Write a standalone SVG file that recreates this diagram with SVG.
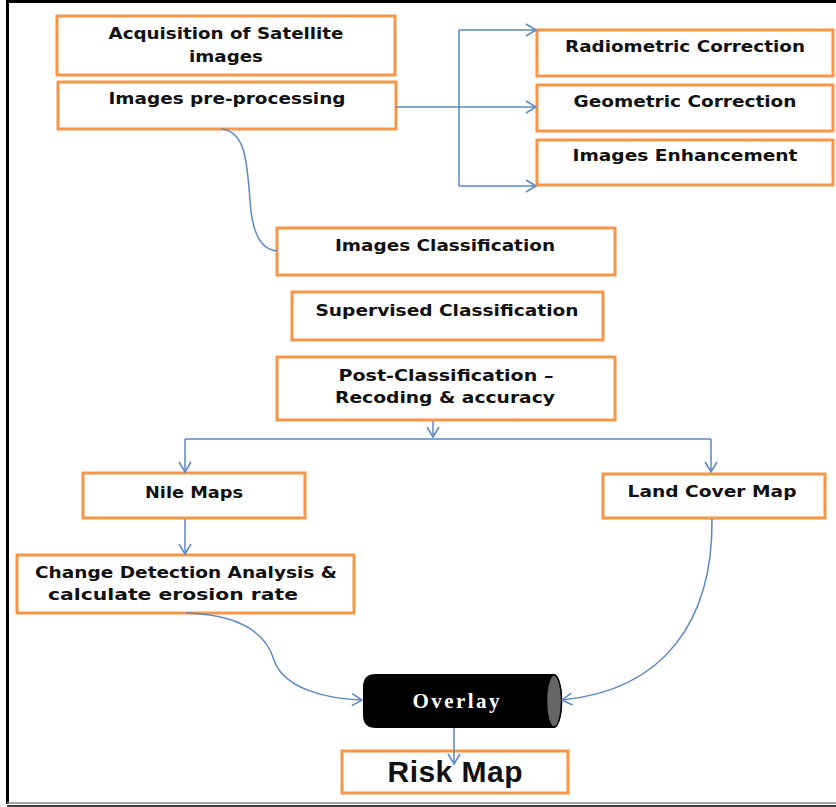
<svg xmlns="http://www.w3.org/2000/svg" width="836" height="807" viewBox="0 0 836 807">
<defs>
<style>
.box{fill:#fff;stroke:#F79646;stroke-width:3}
.t{font-family:"DejaVu Sans",Verdana,sans-serif;font-weight:bold;font-size:15.5px;fill:#111;text-anchor:middle}
.c{fill:none;stroke:#5B87C5;stroke-width:1.5}
</style>
<marker id="ah" markerWidth="14" markerHeight="14" refX="11" refY="7" orient="auto" markerUnits="userSpaceOnUse">
<path d="M1,1 L11,7 L1,13" fill="none" stroke="#5B87C5" stroke-width="1.5"/>
</marker>
</defs>
<rect width="836" height="807" fill="#fff"/>
<g id="frame">
<line x1="7" y1="1.5" x2="836" y2="1.5" stroke="#000" stroke-width="3"/>
<line x1="7.5" y1="0" x2="7.5" y2="804" stroke="#000" stroke-width="3"/>
<line x1="7" y1="803" x2="836" y2="803" stroke="#888" stroke-width="1.5"/>
<line x1="7" y1="806" x2="836" y2="806" stroke="#000" stroke-width="1.5"/>
</g>
<g id="n-acq">
<rect class="box" x="57" y="16" width="338" height="59"/>
<text class="t" x="226" y="39" textLength="235" lengthAdjust="spacingAndGlyphs">Acquisition of Satellite</text>
<text class="t" x="226" y="62" textLength="74" lengthAdjust="spacingAndGlyphs">images</text>
</g>
<g id="n-pre">
<rect class="box" x="58" y="82" width="338" height="47"/>
<text class="t" x="227" y="104" textLength="237" lengthAdjust="spacingAndGlyphs">Images pre-processing</text>
</g>
<g id="n-radio">
<rect class="box" x="537" y="30" width="296" height="46"/>
<text class="t" x="685" y="52" textLength="240" lengthAdjust="spacingAndGlyphs">Radiometric Correction</text>
</g>
<g id="n-geo">
<rect class="box" x="537" y="85" width="296" height="46"/>
<text class="t" x="685" y="107" textLength="223" lengthAdjust="spacingAndGlyphs">Geometric Correction</text>
</g>
<g id="n-enh">
<rect class="box" x="537" y="140" width="296" height="45"/>
<text class="t" x="685" y="161" textLength="225" lengthAdjust="spacingAndGlyphs">Images Enhancement</text>
</g>
<g id="n-class">
<rect class="box" x="277" y="228" width="338" height="47"/>
<text class="t" x="445" y="251" textLength="220" lengthAdjust="spacingAndGlyphs">Images Classification</text>
</g>
<g id="n-sup">
<rect class="box" x="292" y="292" width="311" height="48"/>
<text class="t" x="447" y="316" textLength="263" lengthAdjust="spacingAndGlyphs">Supervised Classification</text>
</g>
<g id="n-post">
<rect class="box" x="277" y="357" width="338" height="63"/>
<text class="t" x="446" y="381" textLength="215" lengthAdjust="spacingAndGlyphs">Post-Classification –</text>
<text class="t" x="445" y="403" textLength="220" lengthAdjust="spacingAndGlyphs">Recoding &amp; accuracy</text>
</g>
<g id="n-nile">
<rect class="box" x="83" y="473" width="222" height="45"/>
<text class="t" x="194" y="498" textLength="98" lengthAdjust="spacingAndGlyphs">Nile Maps</text>
</g>
<g id="n-land">
<rect class="box" x="603" y="474" width="222" height="44"/>
<text class="t" x="712" y="497" textLength="169" lengthAdjust="spacingAndGlyphs">Land Cover Map</text>
</g>
<g id="n-change">
<rect class="box" x="17" y="555" width="337" height="58"/>
<text class="t" x="186" y="578" textLength="302" lengthAdjust="spacingAndGlyphs">Change Detection Analysis &amp;</text>
<text class="t" x="173" y="600" textLength="250" lengthAdjust="spacingAndGlyphs">calculate erosion rate</text>
</g>
<g id="n-overlay">
<path d="M376,674 H554 A8,27 0 0 1 554,728 H376 Q363,728 363,715 V687 Q363,674 376,674 Z" fill="#000"/>
<ellipse cx="554" cy="701" rx="7.5" ry="26" fill="#666" stroke="#000" stroke-width="1.5"/>
<text x="456" y="708" font-family="'Liberation Serif','Times New Roman',serif" font-weight="bold" font-size="21" fill="#fff" text-anchor="middle" textLength="87" lengthAdjust="spacing">Overlay</text>
</g>
<g id="n-risk">
<rect class="box" x="342" y="751" width="226" height="42"/>
<text x="455" y="782" font-family="'Liberation Sans',Arial,sans-serif" font-weight="bold" font-size="30" fill="#111" text-anchor="middle" textLength="135" lengthAdjust="spacing">Risk Map</text>
</g>
<g id="connectors">
<path class="c" d="M396,107 H459"/>
<path class="c" d="M459,30 V186"/>
<path class="c" d="M459,30 H536" marker-end="url(#ah)"/>
<path class="c" d="M459,107 H536" marker-end="url(#ah)"/>
<path class="c" d="M459,186 H536" marker-end="url(#ah)"/>
<path class="c" d="M222,129 C245,132 247,160 250,200 C252,235 262,250 277,251"/>
<path class="c" d="M433,421 V437" marker-end="url(#ah)"/>
<path class="c" d="M185,439 H711"/>
<path class="c" d="M185,439 V472" marker-end="url(#ah)"/>
<path class="c" d="M711,439 V472" marker-end="url(#ah)"/>
<path class="c" d="M185,519 V554" marker-end="url(#ah)"/>
<path class="c" d="M186,613 C250,615 268,640 274,660 C284,690 330,699 362,700" marker-end="url(#ah)"/>
<path class="c" d="M712,519 C713,620 665,690 562,700" marker-end="url(#ah)"/>
<path class="c" d="M454,728 V764" marker-end="url(#ah)"/>
</g>
</svg>
